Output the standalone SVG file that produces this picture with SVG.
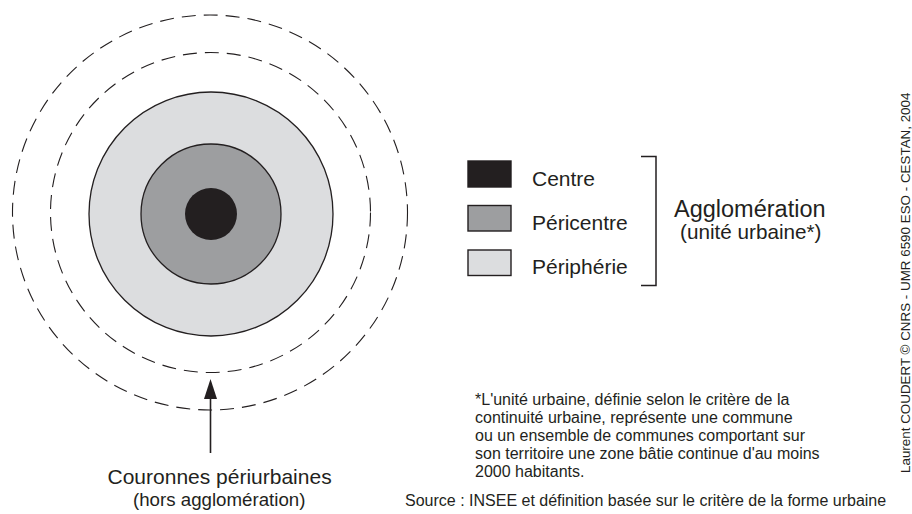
<svg xmlns="http://www.w3.org/2000/svg" width="912" height="514" viewBox="0 0 912 514">
<style>
text{font-family:"Liberation Sans",Arial,sans-serif;fill:#231f20}
.ring{stroke:#231f20;stroke-width:1.3}
.dash{fill:none;stroke:#231f20;stroke-width:1.1;stroke-dasharray:14 8}
.box{stroke:#231f20;stroke-width:1.4}
.c{fill:#231f20}.p{fill:#9d9ea0}.f{fill:#dcdddf}
.lbl{font-size:21px}
.note{font-size:16px}
</style>
<g id="couronnes-rings">
<circle class="dash" cx="210" cy="212.5" r="197.5"/>
<circle class="dash" cx="210.5" cy="212.5" r="160"/>
</g>
<g id="peripherie-circle"><circle class="ring f" cx="211" cy="214" r="122"/></g>
<g id="pericentre-circle"><circle class="ring p" cx="211" cy="214" r="70"/></g>
<g id="centre-circle"><circle class="c" cx="211" cy="214" r="26"/></g>
<g id="connectors">
<line x1="210.5" y1="453" x2="210.5" y2="399" stroke="#231f20" stroke-width="1.6"/>
<polygon points="210.5,379 204,399 217,399" fill="#231f20"/>
</g>
<g id="couronnes-label">
<text class="lbl" x="107.5" y="483.5">Couronnes périurbaines</text>
<text x="133" y="506" font-size="18.7">(hors agglomération)</text>
</g>
<g id="legend-centre">
<rect class="box c" x="468" y="161" width="43" height="26"/>
<text class="lbl" x="532" y="186">Centre</text>
</g>
<g id="legend-pericentre">
<rect class="box p" x="468" y="205.5" width="43" height="25.5"/>
<text class="lbl" x="532" y="230">Péricentre</text>
</g>
<g id="legend-peripherie">
<rect class="box f" x="468" y="250" width="43" height="25.5"/>
<text class="lbl" x="532" y="274">Périphérie</text>
</g>
<g id="agglomeration">
<path d="M641,156.5 H656 V285.5 H641" fill="none" stroke="#231f20" stroke-width="1.5"/>
<text x="674" y="217" font-size="23.5">Agglomération</text>
<text x="680" y="239" font-size="20.7">(unité urbaine*)</text>
</g>
<g id="footnote">
<text class="note" x="475" y="405">*L'unité urbaine, définie selon le critère de la</text>
<text class="note" x="475" y="423">continuité urbaine, représente une commune</text>
<text class="note" x="475" y="441">ou un ensemble de communes comportant sur</text>
<text class="note" x="475" y="459">son territoire une zone bâtie continue d'au moins</text>
<text class="note" x="475" y="477">2000 habitants.</text>
</g>
<g id="source">
<text class="note" x="405" y="506">Source : INSEE et définition basée sur le critère de la forme urbaine</text>
</g>
<g id="credit">
<text x="910" y="473" font-size="13.4" transform="rotate(-90 910 473)">Laurent COUDERT © CNRS - UMR 6590 ESO - CESTAN, 2004</text>
</g>
</svg>
